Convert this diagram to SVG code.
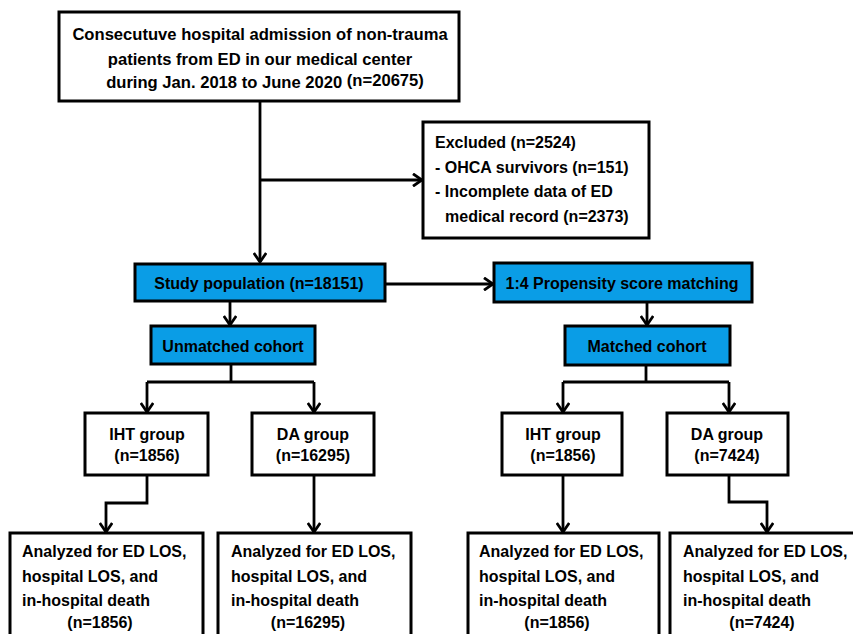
<svg xmlns="http://www.w3.org/2000/svg" width="853" height="634" viewBox="0 0 853 634">
<defs>
<marker id="arr" markerUnits="userSpaceOnUse" markerWidth="14" markerHeight="14" viewBox="0 0 14 14" refX="12" refY="7" orient="auto">
<path d="M3,0.8 L12,7 L3,13.2" fill="none" stroke="#000" stroke-width="2.8"/>
</marker>
</defs>
<style>
.box{fill:#fff;stroke:#000;stroke-width:3}
.blue{fill:#0a9de6;stroke:#000;stroke-width:3}
text{font-family:"Liberation Sans",Arial,sans-serif;font-weight:bold;font-size:16px;fill:#000}
.c{text-anchor:middle}
.big{font-size:16.6px}
.ln{fill:none;stroke:#000;stroke-width:2.8}
</style>
<rect width="853" height="634" fill="#fff"/>
<g id="connectors">
<path class="ln" d="M260,101 V262" marker-end="url(#arr)"/>
<path class="ln" d="M260,180 H422" marker-end="url(#arr)"/>
<path class="ln" d="M385,284 H493" marker-end="url(#arr)"/>
<path class="ln" d="M230,301 V325" marker-end="url(#arr)"/>
<path class="ln" d="M647,302 V325" marker-end="url(#arr)"/>
<path class="ln" d="M231,364 V382"/>
<path class="ln" d="M147,382 H314"/>
<path class="ln" d="M147,382 V412" marker-end="url(#arr)"/>
<path class="ln" d="M314,382 V412" marker-end="url(#arr)"/>
<path class="ln" d="M646,365 V382"/>
<path class="ln" d="M563,382 H729"/>
<path class="ln" d="M563,382 V412" marker-end="url(#arr)"/>
<path class="ln" d="M729,382 V412" marker-end="url(#arr)"/>
<path class="ln" d="M147,475 V503 H106 V532" marker-end="url(#arr)"/>
<path class="ln" d="M314,475 V532" marker-end="url(#arr)"/>
<path class="ln" d="M563,475 V532" marker-end="url(#arr)"/>
<path class="ln" d="M729,475 V502 H767 V532" marker-end="url(#arr)"/>
</g>
<g id="n-admission">
<rect class="box" x="59" y="12" width="400" height="89"/>
<text class="c big" x="260" y="40">Consecutuve hospital admission of non-trauma</text>
<text class="c big" x="260" y="65">patients from ED in our medical center</text>
<text class="c big" x="265" y="88">during Jan. 2018 to June 2020 <tspan dy="-2">(n=20675)</tspan></text>
</g>
<g id="n-excluded">
<rect class="box" x="423" y="122" width="226" height="116"/>
<text x="435" y="148">Excluded (n=2524)</text>
<text x="435" y="173">- OHCA survivors (n=151)</text>
<text x="435" y="197">- Incomplete data of ED</text>
<text x="445" y="222">medical record  (n=2373)</text>
</g>
<g id="n-study">
<rect class="blue" x="135" y="264" width="250" height="37"/>
<text class="c" x="259" y="289">Study population (n=18151)</text>
</g>
<g id="n-psm">
<rect class="blue" x="494" y="263" width="258" height="39"/>
<text class="c" x="622" y="289">1:4 Propensity score matching</text>
</g>
<g id="n-unmatched">
<rect class="blue" x="151" y="326" width="164" height="38"/>
<text class="c" x="233" y="352">Unmatched cohort</text>
</g>
<g id="n-matched">
<rect class="blue" x="565" y="326" width="165" height="39"/>
<text class="c" x="647" y="352">Matched cohort</text>
</g>
<g id="n-iht1">
<rect class="box" x="85" y="413" width="123" height="62"/>
<text class="c" x="147" y="440">IHT group</text>
<text class="c" x="147" y="461">(n=1856)</text>
</g>
<g id="n-da1">
<rect class="box" x="252" y="413" width="122" height="62"/>
<text class="c" x="313" y="440">DA group</text>
<text class="c" x="313" y="461">(n=16295)</text>
</g>
<g id="n-iht2">
<rect class="box" x="502" y="413" width="120" height="62"/>
<text class="c" x="563" y="440">IHT group</text>
<text class="c" x="563" y="461">(n=1856)</text>
</g>
<g id="n-da2">
<rect class="box" x="667" y="413" width="121" height="62"/>
<text class="c" x="727" y="440">DA group</text>
<text class="c" x="727" y="461">(n=7424)</text>
</g>
<g id="n-an1">
<rect class="box" x="10" y="533" width="193" height="120"/>
<text x="22" y="557">Analyzed for ED LOS,</text>
<text x="22" y="582">hospital LOS, and</text>
<text x="22" y="606">in-hospital death</text>
<text class="c" x="100" y="628">(n=1856)</text>
</g>
<g id="n-an2">
<rect class="box" x="218" y="533" width="193" height="120"/>
<text x="231" y="557">Analyzed for ED LOS,</text>
<text x="231" y="582">hospital LOS, and</text>
<text x="231" y="606">in-hospital death</text>
<text class="c" x="308" y="628">(n=16295)</text>
</g>
<g id="n-an3">
<rect class="box" x="468" y="533" width="191" height="120"/>
<text x="479" y="557">Analyzed for ED LOS,</text>
<text x="479" y="582">hospital LOS, and</text>
<text x="479" y="606">in-hospital death</text>
<text class="c" x="557" y="628">(n=1856)</text>
</g>
<g id="n-an4">
<rect class="box" x="670" y="533" width="200" height="120"/>
<text x="683" y="557">Analyzed for ED LOS,</text>
<text x="683" y="582">hospital LOS, and</text>
<text x="683" y="606">in-hospital death</text>
<text class="c" x="762" y="628">(n=7424)</text>
</g>
</svg>
